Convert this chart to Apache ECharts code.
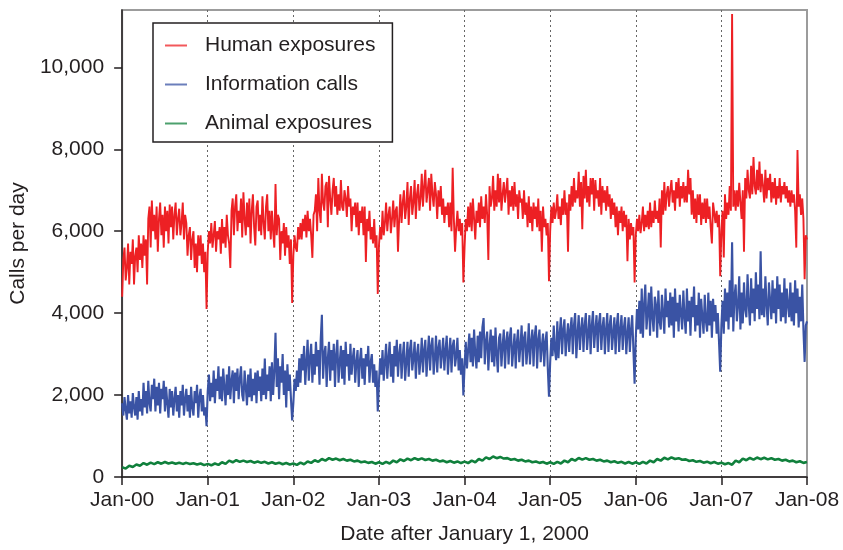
<!DOCTYPE html>
<html><head><meta charset="utf-8">
<script src="https://cdn.jsdelivr.net/npm/echarts@6/dist/echarts.min.js"></script>
<style>html,body{margin:0;padding:0;background:#fff}#c{width:843px;height:550px}</style>
</head><body><div id="c"></div>
<script>
// ---------- data ----------
const xTickLabels = ['Jan-00','Jan-01','Jan-02','Jan-03','Jan-04','Jan-05','Jan-06','Jan-07','Jan-08'];
const yTickValues = [0, 2000, 4000, 6000, 8000, 10000];
const seriesNames = ['Human exposures', 'Information calls', 'Animal exposures'];
const samplesPerYearMain = 72;   // readings per year (about every 5 days)
const samplesPerYearAnimal = 24; // readings per year (about every 15 days)

// Human exposures, one row per year (6 readings per month)
const human = [
  4400,5300,5600,4800,5100,5700, 4700,5500,5200,5800,4700,5400, 5600,5000,5900,5300,5700,5100, 5900,5400,5800,4700,6300,6600, 5600,6750,6000,6400,5800,6600, 5500,6300,6700,5900,6400,5600, 6600,6000,6500,5700,6650,6100, 6600,5800,6400,6700,5900,6300, 6550,5900,6200,6700,5800,6400, 6200,5400,5900,6100,5300,5800, 6000,5100,5700,5000,5900,5400, 5900,5200,5700,5000,5500,4100,
  5500,6000,5700,6200,5600,5900, 6250,5500,6000,5800,6100,5450, 6300,5700,6100,5600,6400,5900, 5700,5100,6500,6800,5900,6600, 6900,6000,6500,6200,6800,5850, 6950,6300,5900,6700,6100,6800, 5700,6500,6900,6100,5650,6600, 6750,6000,6400,5900,6850,6200, 5800,6600,6900,6000,6500,5800, 6500,6000,5600,7150,5900,6400, 6300,5300,6000,5700,6200,5400, 6100,5600,5900,5200,5800,4250,
  5400,5900,5600,5500,6100,5800, 6200,5800,6300,6000,6400,5850, 6500,6000,6300,5900,5350,6400, 6500,6900,6000,7300,6500,6200, 7400,6700,6500,7100,7200,6100, 7350,6800,6400,7000,7300,6600, 7100,6400,6900,6500,7250,6600, 6500,7000,6800,6350,7100,6600, 6800,6000,6600,6400,6700,6100, 6700,5900,6500,6200,6600,5900, 6600,5250,6300,6000,6500,5800, 6100,5700,6300,5600,5900,4470,
  5650,6100,5800,6500,5900,6200, 6700,6000,6400,6600,5950,6300, 6750,6100,6500,6600,5500,6300, 6900,6200,6700,7000,6300,6600, 7200,6150,6800,7100,6400,6700, 7250,6300,6900,7150,6500,6800, 7400,6600,7100,7500,6700,7000, 7300,6500,7400,6900,6600,7200, 6900,6300,7000,6600,7100,6400, 6800,6200,6600,6400,6700,6100, 6700,6000,7550,6300,5500,6100, 6500,6000,6300,5900,6200,4750,
  5600,6300,6000,6600,6100,6700, 6000,6800,6300,5800,6500,6200, 6700,6100,6850,6300,6600,6200, 6900,6400,5300,7100,6600,6800, 7350,6500,7000,6600,7400,6700, 7300,6500,6900,7200,6700,7000, 7300,6400,7000,6600,7100,6500, 7200,6600,6900,6300,7000,6700, 6800,6300,7000,6400,6700,6100, 6850,6200,6600,6000,6700,6300, 6600,6100,6800,6000,6500,5500, 6600,6100,6300,5900,6200,4780,
  6000,6600,6200,6700,6300,6500, 6900,6300,6600,6150,6800,6400, 7000,6400,6700,5500,6900,6500, 7100,6600,7300,6700,7000,6800, 7450,6600,7200,6050,7350,6800, 7500,6700,7100,6600,7300,6900, 7300,6500,7250,6800,7000,6600, 7300,6400,7100,6700,7000,6500, 7100,6600,6900,6300,6800,6400, 6700,6100,6600,5900,6500,6200, 6600,6000,6500,6100,6400,5270, 6300,5800,6200,5900,6100,4750,
  5900,6300,6000,6400,5950,6200, 6600,6000,6400,6100,6500,6050, 6700,6100,6500,6200,6750,6300, 6500,6200,6800,5600,7000,6400, 7200,6500,6900,7100,6600,7000, 7250,6700,7000,6500,7200,6800, 7300,6600,7100,6800,7200,6700, 7100,6700,7500,6900,7300,6400, 7000,6300,6800,6200,6900,6400, 6900,6150,6700,6300,6800,6200, 6800,6300,6600,6100,5700,6700, 6700,6200,6500,6100,6400,4900,
  6000,6500,5360,6900,6300,6700, 6400,7100,6500,11300,6600,7000, 6500,7000,6600,7180,6700,6300, 7000,5500,7300,6800,7500,7000, 6800,7600,6900,7810,7100,6900, 7500,7000,7700,6950,7400,7100, 6700,7500,6800,7300,7000,7400, 6700,7200,6800,7300,6650,7100, 6800,7300,6700,7100,6900,7200, 6800,7100,6700,7000,6600,7000, 6700,6900,6500,5600,7985,6600, 6900,6400,6800,6300,4830,5900,
  5800
];

// Information calls, one row per year (6 readings per month)
const information = [
  1800,1500,1950,1650,1400,2000, 1550,1850,1450,2050,1700,1500, 1950,1400,2100,1600,1900,1500, 2300,1700,2100,1550,2350,1800, 1600,2250,1900,2400,1600,2200, 1750,2300,1550,2150,1900,2350, 1600,2200,1800,1450,2150,1700, 2100,1500,1900,2200,1600,2000, 1450,2100,1750,2250,1500,1900, 2150,1600,2000,1450,2200,1700, 1500,2100,1800,2250,1450,1950, 2150,1600,2000,1500,1700,1240,
  2100,2500,1850,2300,1950,2600, 1800,2400,2100,2700,1900,2450, 1850,2650,2200,1750,2500,2000, 2700,1900,2350,2600,1800,2550, 2100,2650,1900,2400,2700,2000, 1850,2600,2200,1750,2500,1950, 2650,1850,2400,2000,2550,1800, 2600,2100,2450,1850,2650,2000, 2890,1900,2500,2100,2700,1850, 2800,2000,2600,3520,2200,2900, 1900,2700,2300,3000,2000,2600, 1700,2750,2100,2500,1900,1380,
  1800,2400,2100,2600,2200,2900, 2300,3000,2600,3200,2250,2800, 3350,2350,2900,3250,2300,3000, 2500,3300,2700,3100,2250,3350, 3960,2400,3000,3200,2200,2900, 3300,2350,3100,2600,3250,2200, 3000,3350,2300,2800,3200,2400, 3100,2250,3300,2700,3000,2350, 3250,2500,2900,3150,2300,2800, 3100,2200,2850,3150,2400,2900, 2250,3000,2700,3200,2300,2800, 3000,2300,2750,2200,2600,1600,
  2300,2900,2500,3100,2350,2800, 3250,2400,2900,3300,2450,3000, 2300,3200,2700,3350,2450,3000, 3250,2400,2950,3300,2350,2800, 3300,2450,3100,3350,2600,2900, 3300,2400,3000,3250,2500,2850, 3400,2550,3100,3350,2450,3000, 3450,2600,3200,3400,2500,2900, 3450,2550,3150,3350,2650,3000, 3400,2600,3100,3450,2500,3000, 3400,2550,3200,3350,2700,2950, 3400,2600,3100,2500,2900,1990,
  2700,3300,2650,3100,3500,2800, 3400,2700,3600,3000,2650,3450, 2800,3550,2900,3650,3880,2750, 3300,3550,2600,3200,3600,2800, 3450,2700,3650,3000,2550,3400, 3500,2700,3200,3600,2650,3300, 3550,2750,3400,3650,2700,3100, 3500,2650,3300,3600,2800,3200, 3700,2700,3400,3550,2750,3100, 3750,2750,3300,3600,2700,3450, 3700,2650,3350,3600,2800,3200, 3500,2700,3300,3550,2650,1960,
  2800,3400,2950,3700,3100,2850, 3800,2900,3500,3900,3000,3600, 3850,2950,3400,3750,3050,3600, 3900,3000,3700,4000,2900,3500, 3950,3100,3600,3900,3050,3700, 4000,3100,3500,3950,3000,3700, 4050,3150,3600,3950,3050,3750, 4000,3100,3650,3900,3000,3600, 4000,3050,3700,3950,3100,3500, 3900,3000,3700,4000,3050,3600, 3950,3100,3650,3900,3000,3500, 3900,3050,3600,3950,3100,2280,
  3400,4100,3600,4300,3500,4600, 3400,4200,4700,3600,4000,4500, 3450,4650,3900,3550,4400,4200, 3400,4550,3800,3600,4450,4000, 3500,4600,3900,4300,3650,4500, 3700,4400,3400,4600,3800,4250, 3550,4450,4000,3600,4550,3900, 3500,4600,3800,4300,3450,4400, 3900,4650,3550,4200,3700,4500, 3400,4350,3900,3500,4450,3800, 3550,4500,3700,4300,3400,4350, 3800,4200,3500,4000,3300,2570,
  3700,4300,3500,4600,3800,4500, 3600,4800,3900,5730,3550,4400, 4700,3800,4200,4900,3600,4500, 3750,4750,4100,3900,4950,4200, 3700,4850,4000,4600,3800,5000, 4100,4700,3850,5510,3950,4600, 3900,4900,4200,3700,4750,4300, 3850,4800,4000,4600,3750,4900, 4100,4700,3800,4500,3900,4850, 3750,4600,4200,3900,4750,3800, 4500,3700,4800,4000,4600,3650, 4400,3800,4700,3600,2810,3700,
  3800
];

// Animal exposures, one row per year (2 readings per month)
const animal = [
  240,205,275,245,305,275,340,300,350,315,360,325,365,330,355,325,350,320,345,315,335,305,330,290,
  320,285,330,295,360,320,400,360,410,370,400,365,390,350,380,345,370,330,360,325,350,310,340,305,
  330,295,350,310,380,345,410,370,440,400,460,420,450,410,440,400,420,380,400,360,380,345,365,325,
  360,320,370,330,400,360,430,390,450,410,460,420,455,415,440,400,420,380,400,360,390,350,380,340,
  375,340,400,360,440,400,480,440,500,460,490,450,460,420,440,400,420,380,400,360,380,345,365,325,
  360,320,370,330,400,360,440,400,465,425,460,420,440,400,420,380,400,360,385,345,370,330,365,325,
  360,320,370,330,400,360,440,400,470,430,480,440,460,420,430,390,410,370,390,350,375,335,365,325,
  350,310,340,300,400,360,450,410,465,425,475,435,470,430,460,420,440,400,420,380,400,360,385,345,
  365
];

// ---------- chart ----------
const FONT = '"Liberation Sans", Arial, Helvetica, sans-serif';
const TXT = '#231f20';
const colors = ['#ed2024', '#3a53a4', '#10803c'];
const toPairs = (arr, perYear) => arr.map((v, i) => [i / perYear, v]);

const chart = echarts.init(document.getElementById('c'), null, {renderer: 'canvas'});
chart.setOption({
  animation: false,
  backgroundColor: '#fff',
  textStyle: {fontFamily: FONT, color: TXT},
  grid: {left: 122, right: 36, top: 10, bottom: 71, show: true, borderColor: '#9c9c9c', borderWidth: 2, backgroundColor: 'transparent'},
  legend: {
    orient: 'vertical', left: 153, top: 23,
    padding: [12, 17, 8, 12], itemGap: 18,
    backgroundColor: '#fff', borderColor: '#231f20', borderWidth: 1.5,
    icon: 'rect', itemWidth: 22, itemHeight: 2,
    itemStyle: {opacity: 0.75},
    textStyle: {fontFamily: FONT, fontSize: 21, color: TXT, lineHeight: 20, padding: [0, 0, 0, 13]},
    data: seriesNames
  },
  xAxis: {
    type: 'value', min: 0, max: 8, interval: 1,
    name: 'Date after January 1, 2000', nameLocation: 'middle', nameGap: 47,
    nameTextStyle: {fontFamily: FONT, fontSize: 21, color: TXT},
    axisLine: {show: true, lineStyle: {color: TXT, width: 1.5}},
    axisTick: {show: true, inside: false, length: 8, lineStyle: {color: TXT, width: 1.5}},
    axisLabel: {fontFamily: FONT, fontSize: 21, color: TXT, margin: 13, formatter: v => xTickLabels[Math.round(v)] || ''},
    splitLine: {show: true, showMinLine: false, showMaxLine: false, lineStyle: {color: '#666', width: 1, type: [2, 3]}}
  },
  yAxis: {
    type: 'value', min: 0, max: 11400,
    name: 'Calls per day', nameLocation: 'middle', nameGap: 87,
    nameTextStyle: {fontFamily: FONT, fontSize: 21, color: TXT},
    axisLine: {show: true, lineStyle: {color: TXT, width: 1.5}},
    axisTick: {show: true, inside: false, length: 8, lineStyle: {color: TXT, width: 1.5}, customValues: yTickValues},
    axisLabel: {fontFamily: FONT, fontSize: 21, color: TXT, margin: 18, customValues: yTickValues,
      formatter: v => Number(v).toLocaleString('en-US')},
    splitLine: {show: false}
  },
  series: [
    {name: seriesNames[0], type: 'line', data: toPairs(human, samplesPerYearMain), symbol: 'none', showSymbol: false,
     color: colors[0], lineStyle: {color: colors[0], width: 1.9}, z: 4},
    {name: seriesNames[1], type: 'line', data: toPairs(information, samplesPerYearMain), symbol: 'none', showSymbol: false,
     color: colors[1], lineStyle: {color: colors[1], width: 2.1}, z: 3},
    {name: seriesNames[2], type: 'line', data: toPairs(animal, samplesPerYearAnimal), symbol: 'none', showSymbol: false,
     color: colors[2], lineStyle: {color: colors[2], width: 2.6}, z: 2}
  ]
});
</script>
</body></html>
